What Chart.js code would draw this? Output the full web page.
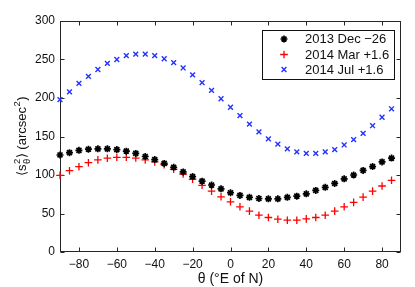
<!DOCTYPE html>
<html>
<head>
<meta charset="utf-8">
<script src="https://cdn.jsdelivr.net/npm/chart.js@4/dist/chart.umd.min.js"></script>
<style>
html,body{margin:0;padding:0;background:#fff;}
#c{display:block;}
</style>
</head>
<body>
<canvas id="c" width="415" height="287" style="width:415px;height:287px"></canvas>
<script>
const angles = [-90,-85,-80,-75,-70,-65,-60,-55,-50,-45,-40,-35,-30,-25,-20,-15,-10,-5,
                0,5,10,15,20,25,30,35,40,45,50,55,60,65,70,75,80,85];
const dec2013 = [126,129,132,133.5,134,134,133,131,128,124,120,115,110,104,98,92,87,82,
                 77,73.5,71,69.5,69,69,71,72.5,75.5,80,84,89,95,100,106,111,117,122];
const mar2014 = [99.6,105.6,110.8,116,119.6,121.8,123,123,122,119.6,117,113.4,107.4,101.3,94.4,86.6,79.1,71.7,
                 65.2,58.7,53.1,47.8,44.8,42.6,41.3,41.3,43,44.8,47.8,53.1,58.7,64.4,71.3,79.1,85.7,93.1];
const jul2014 = [198,208,219,228,237,245,250,255,257,257,255,251,246,239,230,220,210,199,
                 188,177,166,156,147,140,134,130,128,128,130,133,139,146,154,164,175,186];
const seriesNames = ['2013 Dec \u221226', '2014 Mar +1.6', '2014 Jul +1.6'];
const xTicks = [-80,-60,-40,-20,0,20,40,60,80];
const yTicks = [0,50,100,150,200,250,300];

const FONT = 'Liberation Sans, Arial, sans-serif';
const AX = '#262626';

function pts(vals){ return angles.map((a,i)=>({x:a,y:vals[i]})); }
function fmt(v){ return v < 0 ? '\u2212' + Math.abs(v) : String(v); }

const framePlugin = {
  id:'frame',
  beforeDatasetsDraw(chart){
    const ctx = chart.ctx, ca = chart.chartArea;
    const xa = chart.scales.x, ya = chart.scales.y;
    ctx.save();
    ctx.strokeStyle = AX; ctx.lineWidth = 1;
    const L = Math.round(ca.left)+0.5, R = Math.round(ca.right)-0.5;
    const T = Math.round(ca.top)+0.5, B = Math.round(ca.bottom)-0.5;
    ctx.strokeRect(L, T, R-L, B-T);
    ctx.beginPath();
    xa.ticks.forEach(t=>{
      const p = Math.round(xa.getPixelForValue(t.value))+0.5;
      ctx.moveTo(p,B); ctx.lineTo(p,B-4);
      ctx.moveTo(p,T); ctx.lineTo(p,T+4);
    });
    ya.ticks.forEach(t=>{
      const p = Math.round(ya.getPixelForValue(t.value))+0.5;
      ctx.moveTo(L,p); ctx.lineTo(L+4,p);
      ctx.moveTo(R,p); ctx.lineTo(R-4,p);
    });
    ctx.stroke();
    ctx.restore();
  },
  afterDraw(chart){
    const ctx = chart.ctx, ca = chart.chartArea;
    ctx.save();
    ctx.fillStyle = '#111';
    // x title
    ctx.font = '14px ' + FONT;
    ctx.textAlign = 'center'; ctx.textBaseline = 'middle';
    ctx.fillText('\u03b8 (\u00b0E of N)', (ca.left+ca.right)/2, 279);
    // y title with super/subscripts
    const big = '13px ' + FONT, small = '9.5px ' + FONT;
    const parts = [
      {t:'\u27e8s', f:big, dy:0},
      {t:'2', f:small, dy:-6, sub:'\u03b8', subdy:4},
      {t:'\u27e9 (arcsec', f:big, dy:0},
      {t:'2', f:small, dy:-6},
      {t:')', f:big, dy:0}
    ];
    let w = 0;
    parts.forEach(p=>{ ctx.font = p.f; let pw = ctx.measureText(p.t).width; if(p.sub){ pw = Math.max(pw, ctx.measureText(p.sub).width);} p.w = pw; w += pw + 0.5; });
    ctx.translate(26, 136);
    ctx.rotate(-Math.PI/2);
    ctx.textAlign = 'left'; ctx.textBaseline = 'alphabetic';
    let x = -w/2;
    parts.forEach(p=>{
      ctx.font = p.f;
      ctx.fillText(p.t, x, p.dy);
      if(p.sub){ ctx.fillText(p.sub, x, p.subdy); }
      x += p.w + 0.5;
    });
    ctx.restore();

    // legend
    ctx.save();
    const bx = 262.5, by = 30.5, bw = 132, bh = 49;
    ctx.fillStyle = '#fff';
    ctx.fillRect(bx, by, bw, bh);
    ctx.strokeStyle = '#111'; ctx.lineWidth = 1;
    ctx.strokeRect(bx, by, bw, bh);
    const rows = [39, 54.5, 69.5];
    chart.data.datasets.forEach((ds,i)=>{
      ctx.strokeStyle = ds.borderColor; ctx.fillStyle = ds.backgroundColor;
      ctx.lineWidth = ds.borderWidth;
      Chart.helpers.drawPoint(ctx, {pointStyle: ds.pointStyle, radius: ds.pointRadius, rotation: 0, borderWidth: ds.borderWidth}, 284, rows[i]);
      ctx.fillStyle = '#111';
      ctx.font = '13px ' + FONT;
      ctx.textAlign = 'left'; ctx.textBaseline = 'middle';
      ctx.fillText(ds.label, 305, rows[i]+0.5);
    });
    ctx.restore();
  }
};

new Chart(document.getElementById('c'), {
  type:'scatter',
  data:{
    datasets:[
      {label:seriesNames[0], data:pts(dec2013), pointStyle:'star', pointRadius:3.5, borderWidth:1.7,
       borderColor:'#000', backgroundColor:'#000', showLine:false, clip:false},
      {label:seriesNames[1], data:pts(mar2014), pointStyle:'cross', pointRadius:3.8, borderWidth:1.3,
       borderColor:'#ff0000', backgroundColor:'#ff0000', showLine:false, clip:false},
      {label:seriesNames[2], data:pts(jul2014), pointStyle:'crossRot', pointRadius:3.4, borderWidth:1.4,
       borderColor:'#2233ff', backgroundColor:'#2233ff', showLine:false, clip:false}
    ]
  },
  options:{
    responsive:false,
    animation:false,
    devicePixelRatio:1,
    layout:{padding:{left:0, right:14, top:21, bottom:0}},
    plugins:{legend:{display:false}, tooltip:{enabled:false}},
    elements:{point:{hoverRadius:3.6}},
    scales:{
      x:{
        type:'linear', min:-90, max:90,
        afterBuildTicks(s){ s.ticks = xTicks.map(v=>({value:v})); },
        afterFit(s){ s.height = 35; },
        grid:{display:false, drawTicks:false},
        border:{display:false},
        ticks:{padding:5, color:'#111', font:{family:FONT, size:12}, maxRotation:0, callback:(v)=>fmt(v)}
      },
      y:{
        type:'linear', min:0, max:300,
        afterBuildTicks(s){ s.ticks = yTicks.map(v=>({value:v})); },
        afterFit(s){ s.width = 60; },
        grid:{display:false, drawTicks:false},
        border:{display:false},
        ticks:{padding:5, color:'#111', font:{family:FONT, size:12}, callback:(v)=>fmt(v)}
      }
    }
  },
  plugins:[framePlugin]
});
</script>
</body>
</html>
